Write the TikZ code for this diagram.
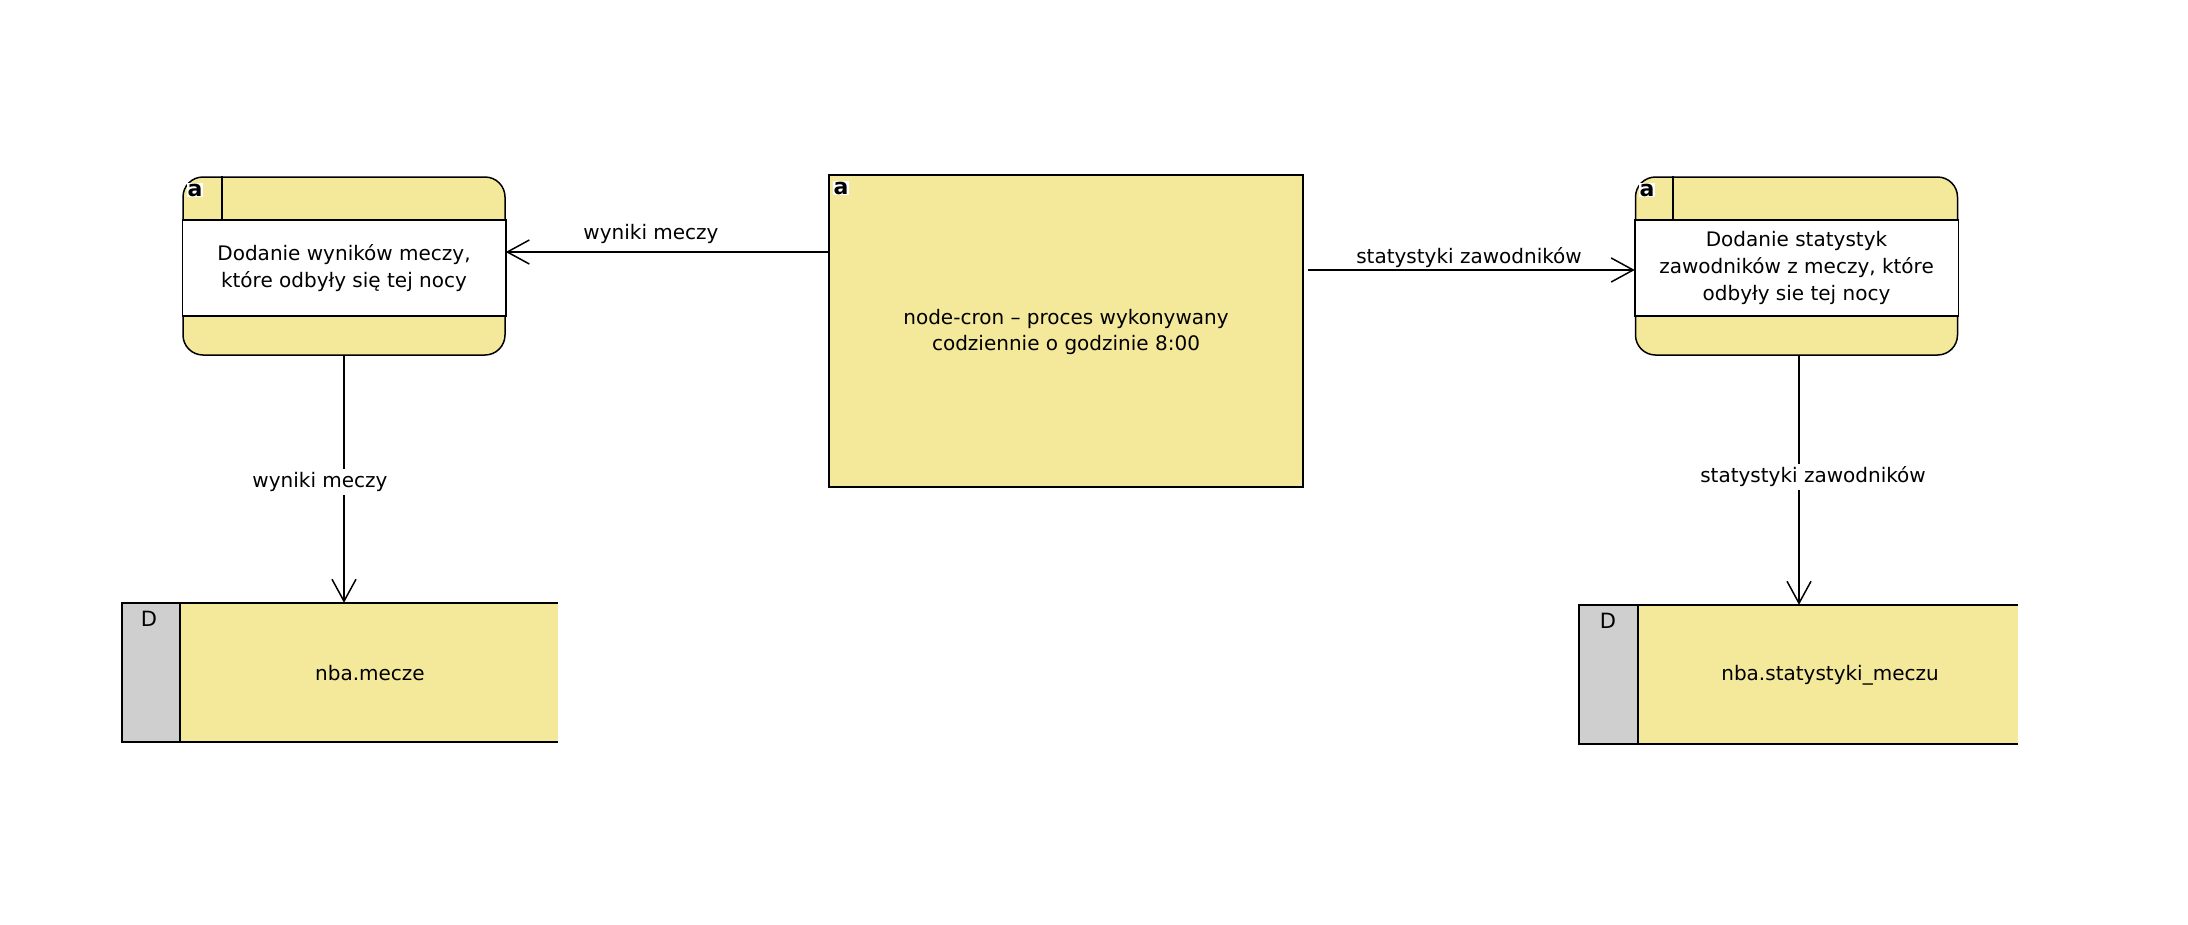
\documentclass[tikz,border=0pt]{standalone}
\usepackage{fontspec}
\setmainfont{DejaVu Sans}
\usetikzlibrary{arrows.meta}
\definecolor{procyellow}{HTML}{F4E99B}
\definecolor{storegray}{HTML}{CFCFCF}

\begin{document}
\begin{tikzpicture}[x=1pt,y=-1pt,
  txt/.style={font=\fontsize{20}{26.7}\selectfont,inner sep=2pt,align=center},
  outline/.style={draw=black,line width=1.5pt},
  procbox/.style={outline,fill=procyellow,rounded corners=20pt,minimum width=322pt,minimum height=178pt,inner sep=0pt},
  cronbox/.style={outline,fill=procyellow,minimum width=474pt,minimum height=312pt,inner sep=0pt},
  storebox/.style={fill=procyellow,minimum height=139pt,inner sep=0pt},
  flow/.style={draw=black,line width=1.5pt,-{Straight Barb[length=22pt,width=24pt,line width=1.5pt]}},
  flowlabel/.style={txt,fill=white,inner sep=3pt},
  marker/.style={fill=white,inner sep=0.5pt,font=\fontsize{22}{22}\selectfont\bfseries},
]
\useasboundingbox (0,0) rectangle (2188,924);

% ---------- processes ----------
\node[procbox] (p1) at (344,266) {};
\node[procbox] (p2) at (1796.5,266) {};
\node[cronbox] (cron) at (1066,331) {};

% white middle band and header divider of each process
\coordinate (bt) at (0,220);
\coordinate (bb) at (0,316);
\foreach \p/\dx in {p1/222,p2/1673}{
  \draw[outline,fill=white] (\p.west |- bt) rectangle (\p.east |- bb);
  \coordinate (dv) at (\dx,220);
  \draw[outline] (dv) -- (dv |- \p.north);
}
\node[txt] (p1t) at (344,268) {Dodanie wyników meczy,\\które odbyły się tej nocy};
\node[txt] (p2t) at (1796.5,268) {Dodanie statystyk\\zawodników z meczy, które\\odbyły sie tej nocy};
\node[txt] (cront) at (1066,332) {node-cron – proces wykonywany\\codziennie o godzinie 8:00};

% corner markers
\node[marker] (m1) at (195,190) {a};
\node[marker] (m2) at (1647,190) {a};
\node[marker] (m3) at (841,188) {a};

% ---------- data stores ----------
\node[storebox,minimum width=436pt] (s1) at (340,672.5) {};
\node[storebox,minimum width=439pt] (s2) at (1798.5,674.5) {};
\fill[storegray] (s1.north west) rectangle (180,742);
\fill[storegray] (s2.north west) rectangle (1638,744);
\draw[outline] (s1.north east) -- (s1.north west) -- (s1.south west) -- (s1.south east);
\draw[outline] (s2.north east) -- (s2.north west) -- (s2.south west) -- (s2.south east);
\draw[outline] (180,603) -- (180,742);
\draw[outline] (1638,605) -- (1638,744);
\node[txt,font=\fontsize{21}{21}\selectfont] (d1) at (149,619) {D};
\node[txt,font=\fontsize{21}{21}\selectfont] (d2) at (1608,621) {D};
\node[txt] (s1t) at (370,673) {nba.mecze};
\node[txt] (s2t) at (1830,675) {nba.statystyki\_meczu};

% ---------- flows ----------
\coordinate (yl) at (0,252);
\coordinate (yr) at (0,270);
\draw[flow] (cron.west |- yl) -- (p1.east |- yl);
\draw[flow,shorten <=4pt] (cron.east |- yr) -- (p2.west |- yr);
\node[txt] (l1) at (651,234) {wyniki meczy};
\node[txt] (l2) at (1469,258) {statystyki zawodników};

\coordinate (xl) at (344,0);
\coordinate (xr) at (1799,0);
\draw[flow] (xl |- p1.south) -- (xl |- s1.north);
\draw[flow] (xr |- p2.south) -- (xr |- s2.north);
\node[flowlabel] (l3) at (320,482) {wyniki meczy};
\node[flowlabel] (l4) at (1813,477) {statystyki zawodników};
\end{tikzpicture}
\end{document}
